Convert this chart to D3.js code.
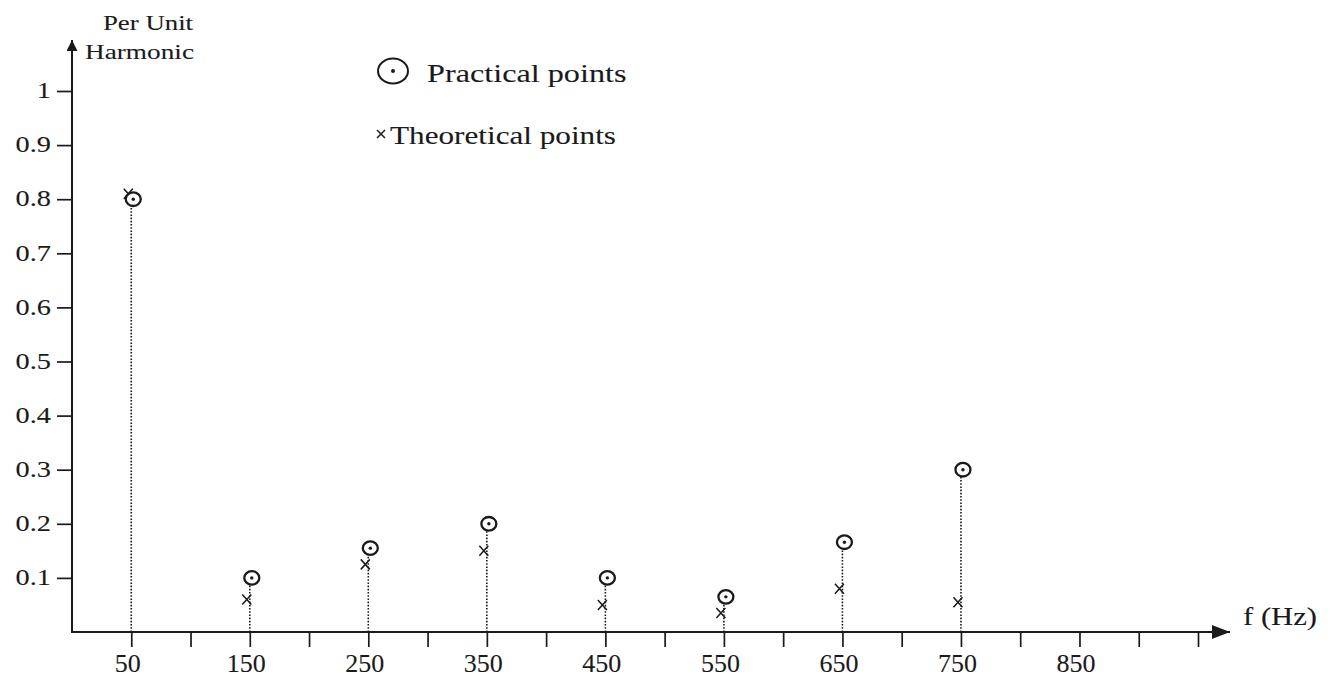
<!DOCTYPE html>
<html><head><meta charset="utf-8">
<script src="https://cdn.jsdelivr.net/npm/d3@7"></script>
<style>html,body{margin:0;padding:0;background:#fff;}svg{display:block;}</style>
</head><body>
<svg id="chart" width="1336" height="679"></svg>
<script>
// Data
const freqs = [50, 150, 250, 350, 450, 550, 650, 750];
const practical = [0.80, 0.10, 0.155, 0.20, 0.10, 0.065, 0.166, 0.30];
const theoretical = [0.81, 0.06, 0.125, 0.15, 0.05, 0.035, 0.08, 0.055];
const xTickValues = [50,100,150,200,250,300,350,400,450,500,550,600,650,700,750,800,850,900,950];
const xTickLabels = ["50","150","250","350","450","550","650","750","850"];
const yTickValues = [0.1,0.2,0.3,0.4,0.5,0.6,0.7,0.8,0.9,1];

const ink = "#1a1a1a";
const font = "'Liberation Serif', 'DejaVu Serif', serif";
const svg = d3.select("#chart");

const x = d3.scaleLinear().domain([0, 950]).range([72, 1198]);
const y = d3.scaleLinear().domain([0, 1]).range([632, 91]);

// helper: horizontally stretched text (the reference scan is wider than tall)
function label(px, py, str, size, sx, anchor) {
  svg.append("g").attr("transform", `translate(${px},${py}) scale(${sx},1)`)
    .append("text").attr("text-anchor", anchor || "start")
    .attr("font-family", font).attr("font-size", size).attr("fill", ink)
    .attr("stroke", ink).attr("stroke-width", 0.1).text(str);
}

// arrow markers
const defs = svg.append("defs");
defs.append("marker").attr("id","arr").attr("viewBox","0 0 10 10")
  .attr("refX",10).attr("refY",5).attr("markerWidth",12).attr("markerHeight",11)
  .attr("markerUnits","userSpaceOnUse").attr("orient","auto")
  .append("path").attr("d","M0,0 L10,5 L0,10 Z").attr("fill",ink);
defs.append("marker").attr("id","arrX").attr("viewBox","0 0 18 14")
  .attr("refX",18).attr("refY",7).attr("markerWidth",18).attr("markerHeight",14)
  .attr("markerUnits","userSpaceOnUse").attr("orient","auto")
  .append("path").attr("d","M0,0 L18,7 L0,14 Z").attr("fill",ink);

// X axis
const xAxis = d3.axisBottom(x).tickValues(xTickValues).tickSize(15)
  .tickFormat(d => xTickLabels.includes(String(d)) ? String(d) : "");
const gx = svg.append("g").attr("transform",`translate(0,${y(0)})`).call(xAxis);
gx.select(".domain").remove();
gx.selectAll(".tick line").attr("stroke",ink).attr("stroke-width",1.7);
gx.selectAll(".tick text").attr("fill",ink).attr("font-family",font).attr("font-size",25)
  .attr("stroke",ink).attr("stroke-width",0.1)
  .attr("y",40).attr("dy",0).attr("transform","translate(-4,0) scale(1.04,1)");
svg.append("line").attr("x1",x(0)-1).attr("x2",1230).attr("y1",y(0)).attr("y2",y(0))
  .attr("stroke",ink).attr("stroke-width",2).attr("marker-end","url(#arrX)");

// Y axis
const yAxis = d3.axisLeft(y).tickValues(yTickValues).tickSize(15)
  .tickFormat(d => d === 1 ? "1" : d3.format(".1f")(d));
const gy = svg.append("g").attr("transform",`translate(${x(0)},0)`).call(yAxis);
gy.select(".domain").remove();
gy.selectAll(".tick line").attr("stroke",ink).attr("stroke-width",1.7);
gy.selectAll(".tick text").attr("fill",ink).attr("font-family",font).attr("font-size",24)
  .attr("stroke",ink).attr("stroke-width",0.1)
  .attr("x",0).attr("dy","0.28em").attr("transform","translate(-21,0) scale(1.18,1)");
svg.append("line").attr("x1",x(0)).attr("x2",x(0)).attr("y1",y(0)+1).attr("y2",40)
  .attr("stroke",ink).attr("stroke-width",2).attr("marker-end","url(#arr)");

// Axis titles
label(148, 30, "Per Unit", 22, 1.22, "middle");
label(85, 59, "Harmonic", 22, 1.24, "start");
label(1243, 625, "f (Hz)", 26, 1.18, "start");

// Stems (dotted)
const data = freqs.map((f,i)=>({f, p:practical[i], t:theoretical[i]}));
svg.append("g").selectAll("line").data(data).join("line")
  .attr("x1",d=>x(d.f)).attr("x2",d=>x(d.f))
  .attr("y1",y(0)).attr("y2",d=>y(Math.max(d.p,d.t))+6)
  .attr("stroke",ink).attr("stroke-width",1.6).attr("stroke-dasharray","1.6,1.6");

// Theoretical points (x marks)
const cross = (g, sx, sy) => g.append("path")
  .attr("d",`M${-sx},${-sy}L${sx},${sy}M${-sx},${sy}L${sx},${-sy}`)
  .attr("stroke",ink).attr("stroke-width",1.5).attr("fill","none");
svg.append("g").selectAll("g").data(data).join("g")
  .attr("transform",d=>`translate(${x(d.f)-3},${y(d.t)})`)
  .each(function(){ cross(d3.select(this), 4.5, 5); });

// Practical points (circle with dot)
const pg = svg.append("g").selectAll("g").data(data).join("g")
  .attr("transform",d=>`translate(${x(d.f)+2},${y(d.p)})`);
pg.append("ellipse").attr("rx",7.5).attr("ry",6.8).attr("fill","#fff").attr("stroke",ink).attr("stroke-width",2.3);
pg.append("circle").attr("r",1.7).attr("fill",ink);

// Legend
svg.append("ellipse").attr("cx",393).attr("cy",71).attr("rx",15).attr("ry",12.5).attr("fill","none")
  .attr("stroke",ink).attr("stroke-width",2);
svg.append("circle").attr("cx",393).attr("cy",71).attr("r",2).attr("fill",ink);
label(427, 82, "Practical points", 26, 1.24, "start");
cross(svg.append("g").attr("transform","translate(381,134)"), 4, 4);
label(390, 144, "Theoretical points", 26, 1.2, "start");
</script>
</body></html>
